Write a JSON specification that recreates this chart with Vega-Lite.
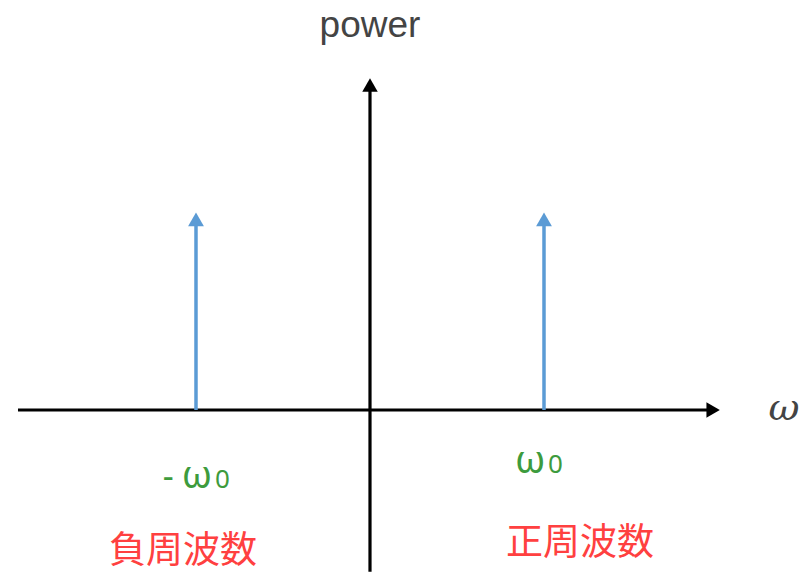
{
  "$schema": "https://vega.github.io/schema/vega-lite/v6.json",
  "autosize": {"type": "fit", "contains": "padding"},
  "width": 809,
  "height": 575,
  "padding": 0,
  "background": "white",
  "config": {"view": {"stroke": null}, "axis": {"disable": true}},
  "datasets": {
    "axes": [
      {"name": "omega", "x": -2.023, "y": 0, "x2": 1.95, "y2": 0},
      {"name": "power", "x": 0, "y": -0.83, "x2": 0, "y2": 1.65}
    ],
    "axisHeadsRight": [{"x": 1.972, "y": 0}],
    "axisHeadsUp": [{"x": 0, "y": 1.667}],
    "spikes": [
      {"freq": -1, "p0": 0, "power": 0.96},
      {"freq": 1, "p0": 0, "power": 0.96}
    ],
    "spikeHeads": [{"freq": -1, "power": 0.978}, {"freq": 1, "power": 0.978}],
    "titles": [{"t": "power", "x": 0, "y": 1.913}],
    "omegaAxis": [{"t": "ω", "x": 2.379, "y": -0.051}],
    "omegaLabels": [
      {"t": "ω", "x": 0.92, "y": -0.323},
      {"t": "ω", "x": -0.994, "y": -0.4}
    ],
    "subs": [
      {"t": "0", "x": 1.023, "y": -0.323},
      {"t": "0", "x": -0.891, "y": -0.4}
    ],
    "minus": [{"t": "-", "x": -1.16, "y": -0.4}],
    "bands": [
      {"t": "負周波数", "x": -1.075, "y": -0.728},
      {"t": "正周波数", "x": 1.207, "y": -0.687}
    ]
  },
  "encoding": {
    "x": {"type": "quantitative", "scale": {"domain": [-2.1264, 2.523], "nice": false, "zero": false}},
    "y": {"type": "quantitative", "scale": {"domain": [-0.8462, 2.1026], "nice": false, "zero": false}}
  },
  "layer": [
    {
      "data": {"name": "axes"},
      "mark": {"type": "rule", "color": "black", "strokeWidth": 3.2},
      "encoding": {
        "x": {"field": "x", "type": "quantitative"},
        "y": {"field": "y", "type": "quantitative"},
        "x2": {"field": "x2"},
        "y2": {"field": "y2"}
      }
    },
    {
      "data": {"name": "axisHeadsRight"},
      "mark": {"type": "point", "shape": "triangle-right", "filled": true, "color": "black", "size": 240, "opacity": 1},
      "encoding": {
        "x": {"field": "x", "type": "quantitative"},
        "y": {"field": "y", "type": "quantitative"}
      }
    },
    {
      "data": {"name": "axisHeadsUp"},
      "mark": {"type": "point", "shape": "triangle-up", "filled": true, "color": "black", "size": 240, "opacity": 1},
      "encoding": {
        "x": {"field": "x", "type": "quantitative"},
        "y": {"field": "y", "type": "quantitative"}
      }
    },
    {
      "data": {"name": "spikes"},
      "mark": {"type": "rule", "color": "#5b9bd5", "strokeWidth": 3.5},
      "encoding": {
        "x": {"field": "freq", "type": "quantitative"},
        "y": {"field": "p0", "type": "quantitative"},
        "y2": {"field": "power"}
      }
    },
    {
      "data": {"name": "spikeHeads"},
      "mark": {"type": "point", "shape": "triangle-up", "filled": true, "color": "#5b9bd5", "size": 250, "opacity": 1},
      "encoding": {
        "x": {"field": "freq", "type": "quantitative"},
        "y": {"field": "power", "type": "quantitative"}
      }
    },
    {
      "data": {"name": "titles"},
      "mark": {"type": "text", "font": "Liberation Sans", "fontSize": 37, "color": "#444444", "align": "center", "baseline": "alphabetic"},
      "encoding": {
        "x": {"field": "x", "type": "quantitative"},
        "y": {"field": "y", "type": "quantitative"},
        "text": {"field": "t"}
      }
    },
    {
      "data": {"name": "omegaAxis"},
      "mark": {"type": "text", "font": "DejaVu Serif", "fontStyle": "italic", "fontSize": 38, "color": "#444444", "align": "center", "baseline": "alphabetic"},
      "encoding": {
        "x": {"field": "x", "type": "quantitative"},
        "y": {"field": "y", "type": "quantitative"},
        "text": {"field": "t"}
      }
    },
    {
      "data": {"name": "omegaLabels"},
      "mark": {"type": "text", "font": "Noto Sans", "fontSize": 38, "color": "#3d9b3d", "align": "center", "baseline": "alphabetic"},
      "encoding": {
        "x": {"field": "x", "type": "quantitative"},
        "y": {"field": "y", "type": "quantitative"},
        "text": {"field": "t"}
      }
    },
    {
      "data": {"name": "subs"},
      "mark": {"type": "text", "font": "Noto Sans", "fontSize": 26, "color": "#3d9b3d", "align": "left", "baseline": "alphabetic"},
      "encoding": {
        "x": {"field": "x", "type": "quantitative"},
        "y": {"field": "y", "type": "quantitative"},
        "text": {"field": "t"}
      }
    },
    {
      "data": {"name": "minus"},
      "mark": {"type": "text", "font": "Noto Sans", "fontSize": 34, "color": "#3d9b3d", "align": "center", "baseline": "alphabetic"},
      "encoding": {
        "x": {"field": "x", "type": "quantitative"},
        "y": {"field": "y", "type": "quantitative"},
        "text": {"field": "t"}
      }
    },
    {
      "data": {"name": "bands"},
      "mark": {"type": "text", "font": "Noto Sans CJK JP", "fontSize": 37, "color": "#ff4040", "align": "center", "baseline": "middle"},
      "encoding": {
        "x": {"field": "x", "type": "quantitative"},
        "y": {"field": "y", "type": "quantitative"},
        "text": {"field": "t"}
      }
    }
  ]
}
